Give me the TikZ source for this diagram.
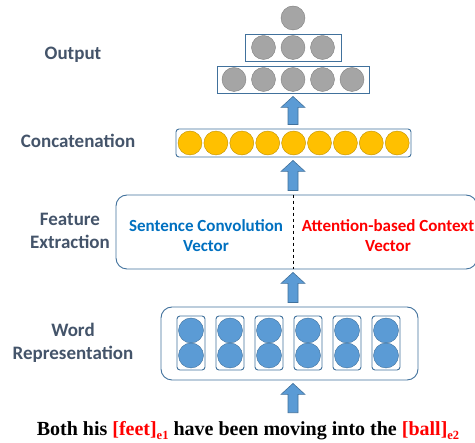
\documentclass[tikz,border=0pt]{standalone}
\usepackage{fontspec}
\setmainfont{Liberation Serif}
\newfontfamily\labfont{Carlito}
\usetikzlibrary{calc}

\definecolor{labgray}{HTML}{44546A}
\definecolor{boxblue}{HTML}{41719C}
\definecolor{cellblue}{HTML}{5B9BD5}
\definecolor{cellgray}{HTML}{A5A5A5}
\definecolor{edgegray}{HTML}{7F7F7F}
\definecolor{cellgold}{HTML}{FFC000}
\definecolor{edgegold}{HTML}{BF9000}
\definecolor{textblue}{HTML}{0070C0}

%% entity marker in the input sentence
\newcommand\ent[2]{\textcolor{red}{[#1]\raisebox{-3.5pt}{\fontsize{12.5}{12.5}\selectfont #2}}}

\begin{document}
\begin{tikzpicture}[x=1pt, y=-1pt,
  layer/.style={font=\labfont\bfseries\fontsize{19}{23}\selectfont, text=labgray, align=center},
  vec/.style={font=\labfont\bfseries\fontsize{17}{20}\selectfont, align=center},
  frame/.style={draw=boxblue, line width=0.9pt, inner sep=0pt},
  gcell/.style={circle, draw=edgegray, fill=cellgray, minimum size=24pt, inner sep=0pt},
  ycell/.style={circle, draw=edgegold, fill=cellgold, minimum size=24pt, inner sep=0pt},
  bcell/.style={circle, draw=boxblue, fill=cellblue, minimum size=25pt, inner sep=0pt},
  fat/.style={draw=boxblue, fill=cellblue, line width=0.6pt}]

\newcommand\fatarrow[2]{% from #1 (below) up to #2
  \draw[fat] ($(o1 |- #1)+(-5,-4)$) -- ($(o1 |- #2)+(-5,14)$) -- ($(o1 |- #2)+(-12,14)$)
    -- ($(o1 |- #2)+(0,3)$) -- ($(o1 |- #2)+(12,14)$) -- ($(o1 |- #2)+(5,14)$)
    -- ($(o1 |- #1)+(5,-4)$) -- cycle;}

\useasboundingbox (0,0) rectangle (475,443);

%% output layers
\node[gcell] (o1) at (293,18) {};
\node[frame, minimum width=96pt, minimum height=27pt] (out3) at (293,47.5) {};
\foreach \i in {0,1,2}
  \node[gcell] (p\i) at (263.5+29.5*\i,47.5) {};
\node[frame, minimum width=152pt, minimum height=27pt] (out5) at (293,79.5) {};
\foreach \i in {0,...,4}
  \node[gcell] (q\i) at (234+29.5*\i,79.5) {};

%% concatenation
\node[frame, rounded corners=3pt, minimum width=235pt, minimum height=28pt] (concat) at (293.5,143) {};
\foreach \i in {0,...,8}
  \node[ycell] (c\i) at (190+25.9*\i,143) {};

%% feature extraction
\node[frame, rounded corners=11pt, minimum width=361pt, minimum height=74pt] (feat) at (296.5,232) {};
\draw[dashed, line width=0.9pt] (feat.north -| o1) -- (feat.south -| o1);
\node[vec, text=textblue] (sentvec) at (206,236) {Sentence Convolution\\Vector};
\node[vec, text=red] (attvec) at (388,236) {Attention-based Context\\Vector};

%% word representation
\node[frame, rounded corners=11pt, minimum width=257pt, minimum height=73pt] (words) at (289.5,343.5) {};
\foreach \i in {0,...,5} {
  \node[frame, rounded corners=3pt, minimum width=28pt, minimum height=54pt] (w\i) at (191+39*\i,343) {};
  \node[bcell] (wa\i) at ($(w\i)+(0,-12.5)$) {};
  \node[bcell] (wb\i) at ($(w\i)+(0,12.5)$) {};
}

%% input sentence
\node[font=\bfseries\fontsize{20}{24}\selectfont, inner sep=5pt, anchor=base] (sent) at (248,436)
  {Both his \ent{feet}{e1} have been moving into the \ent{ball}{e2}};

%% layer names
\node[layer] (lout) at (73,55) {Output};
\node[layer] (lcat) at (78,141) {Concatenation};
\node[layer] (lfeat) at (70,231) {Feature\\Extraction};
\node[layer] (lword) at (73,343) {Word\\Representation};

%% arrows between layers
\fatarrow{concat.north}{out5.south}
\fatarrow{feat.north}{concat.south}
\fatarrow{words.north}{feat.south}
\fatarrow{sent.north}{words.south}

\end{tikzpicture}
\end{document}
